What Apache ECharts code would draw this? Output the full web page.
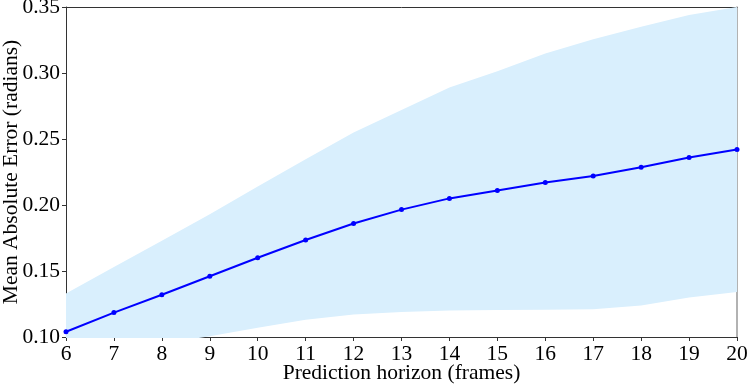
<!DOCTYPE html>
<html>
<head>
<meta charset="utf-8">
<script src="https://cdn.jsdelivr.net/npm/echarts@6/dist/echarts.min.js"></script>
<style>
html,body{margin:0;padding:0;background:#fff;}
#main{width:747px;height:386px;}
</style>
</head>
<body>
<div id="main"></div>
<script>
var horizon = ['6', '7', '8', '9', '10', '11', '12', '13', '14', '15', '16', '17', '18', '19', '20'];
var meanErr = [0.104, 0.1185, 0.132, 0.146, 0.160, 0.1735, 0.186, 0.1965, 0.205, 0.211, 0.217, 0.222, 0.2286, 0.236, 0.242];
var upperErr = [0.133, 0.153, 0.173, 0.193, 0.214, 0.2346, 0.255, 0.272, 0.289, 0.3014, 0.3147, 0.3255, 0.335, 0.344, 0.350];
var lowerErr = [0.085, 0.090, 0.095, 0.1005, 0.107, 0.113, 0.117, 0.119, 0.120, 0.1205, 0.1207, 0.121, 0.1238, 0.130, 0.134];
var yTicks = [0.10, 0.15, 0.20, 0.25, 0.30, 0.35];

var dom = document.getElementById("main");
var myChart = echarts.init(dom);
var font = "Liberation Serif";
var fs = 21.5;

// band = lower edge + (upper - lower) stacked on top
var spread = upperErr.map(function (u, i) { return +(u - lowerErr[i]).toFixed(4); });

var option = {
    animation: false,
    grid: {
        left: 66, right: 10, top: 7, bottom: 49,
        outerBoundsMode: 'none', containLabel: false
    },
    xAxis: [{
        type: 'category',
        data: horizon,
        boundaryGap: false,
        name: 'Prediction horizon (frames)',
        nameLocation: 'middle',
        nameGap: 25,
        nameMoveOverlap: false,
        nameTextStyle: { fontFamily: font, fontSize: fs, color: '#000' },
        axisLine: { show: true, lineStyle: { color: '#333', width: 1 } },
        axisTick: { show: true, inside: false, length: 4, lineStyle: { color: '#333' } },
        axisLabel: { fontFamily: font, fontSize: fs, color: '#000', margin: 6, interval: 0 },
        splitLine: { show: false }
    }, {
        // top spine
        type: 'category', data: horizon, boundaryGap: false, position: 'top',
        axisLine: { show: true, lineStyle: { color: '#333', width: 1 } },
        axisTick: { show: false }, axisLabel: { show: false }, splitLine: { show: false }
    }],
    yAxis: [{
        type: 'value',
        min: yTicks[0], max: yTicks[yTicks.length - 1], interval: 0.05,
        name: 'Mean Absolute Error (radians)',
        nameLocation: 'middle',
        nameGap: 44,
        nameMoveOverlap: false,
        nameTextStyle: { fontFamily: font, fontSize: fs, color: '#000' },
        axisLine: { show: true, lineStyle: { color: '#333', width: 1 } },
        axisTick: { show: true, inside: false, length: 4, lineStyle: { color: '#333' } },
        axisLabel: {
            fontFamily: font, fontSize: fs, color: '#000', margin: 6,
            formatter: function (v) { return v.toFixed(2); }
        },
        splitLine: { show: false }
    }, {
        // right spine (lighter in the original)
        type: 'value', position: 'right',
        min: yTicks[0], max: yTicks[yTicks.length - 1], interval: 0.05,
        axisLine: { show: true, lineStyle: { color: '#999', width: 1.5 } },
        axisTick: { show: false }, axisLabel: { show: false }, splitLine: { show: false }
    }],
    series: [
        {
            name: 'lower', type: 'line', stack: 'band', data: lowerErr,
            symbol: 'none', lineStyle: { opacity: 0 }, silent: true
        },
        {
            name: 'band', type: 'line', stack: 'band', data: spread,
            symbol: 'none', lineStyle: { opacity: 0 },
            areaStyle: { color: '#d9effd', opacity: 1 }, silent: true
        },
        {
            name: 'MAE', type: 'line', data: meanErr,
            symbol: 'circle', symbolSize: 5,
            itemStyle: { color: '#0000ff' },
            lineStyle: { color: '#0000ff', width: 2 }
        }
    ]
};
myChart.setOption(option);
</script>
</body>
</html>
